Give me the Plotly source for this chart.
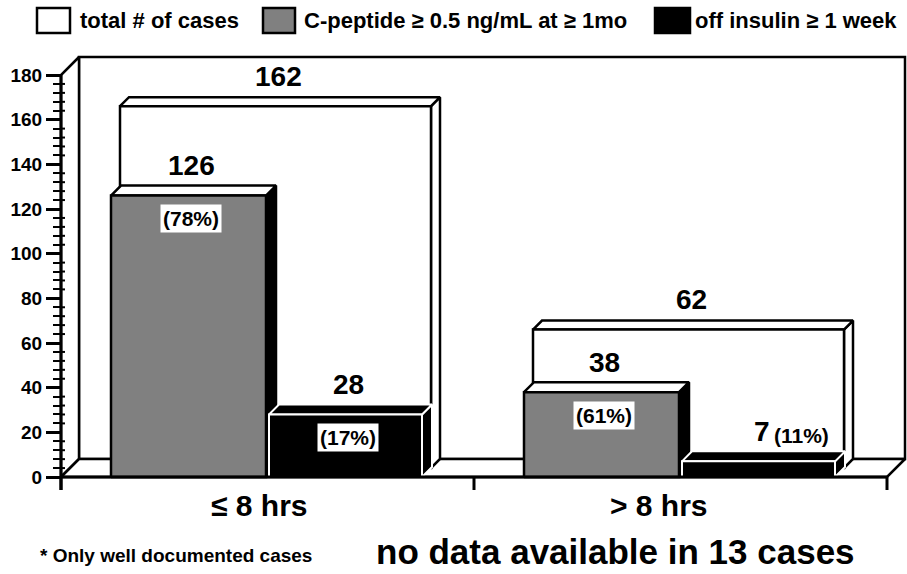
import plotly.graph_objects as go

# ---- data ----
categories = ["≤ 8 hrs", "> 8 hrs"]
total_cases = [162, 62]
c_peptide = [126, 38]
off_insulin = [28, 7]
series_names = ["total # of cases", "C-peptide ≥ 0.5 ng/mL at ≥ 1mo", "off insulin ≥ 1 week"]
y_ticks = list(range(0, 181, 20))
y_minor = [v for v in range(0, 181, 4) if v % 20]
footnote = "* Only well documented cases"
missing_note = "no data available in 13 cases"

# ---- layout constants (pixels) ----
W, H = 907, 574
AX_X = 61          # front y-axis position
FLOOR_Y = 477      # value 0 on the front plane
CAT_PX = 413       # width of one category slot
PX_PER_UNIT = 402 / 180
Y_MAX = 180
FONT = "Liberation Sans"

def ux(px):
    return px / CAT_PX

def uy(px):
    return px / PX_PER_UNIT

DEPTH = 18         # full depth of the floor / back wall
FRONT_DEPTH = 10   # depth of the front row bars
BACK_OFF = 9       # offset of the back row (totals)
BACK_DEPTH = 9

fig = go.Figure()

def poly(pts, fill, line, width=2.5):
    xs = [p[0] for p in pts] + [pts[0][0]]
    ys = [p[1] for p in pts] + [pts[0][1]]
    fig.add_trace(go.Scatter(x=xs, y=ys, mode="lines", fill="toself",
                             fillcolor=fill, line=dict(color=line, width=width),
                             hoverinfo="skip", showlegend=False))

def seg(x, y, width=3, color="black"):
    fig.add_trace(go.Scatter(x=x, y=y, mode="lines",
                             line=dict(color=color, width=width),
                             hoverinfo="skip", showlegend=False))

DX, DY = ux(DEPTH), uy(DEPTH)
n_cat = len(categories)

# walls and floor
poly([(DX, DY), (n_cat + DX, DY), (n_cat + DX, Y_MAX + DY), (DX, Y_MAX + DY)], "white", "black")
poly([(0, 0), (DX, DY), (DX, Y_MAX + DY), (0, Y_MAX)], "white", "black")
poly([(0, 0), (n_cat, 0), (n_cat + DX, DY), (DX, DY)], "white", "black")

def box3d(x0, x1, value, off_px, depth_px, front, top, side, line, width=2.5):
    ox, oy = ux(off_px), uy(off_px)
    dx, dy = ux(depth_px), uy(depth_px)
    b = oy
    v = value + oy
    a, c = x0 + ox, x1 + ox
    poly([(c, b), (c, v), (c + dx, v + dy), (c + dx, b + dy)], side, line, width)
    poly([(a, v), (c, v), (c + dx, v + dy), (a + dx, v + dy)], top, line, width)
    poly([(a, b), (c, b), (c, v), (a, v)], front, line, width)
    return (a + c) / 2, v

# slot positions inside a category (pixels from the slot start)
GRAY_X = (50, 205)
BLACK_X = (208, 361)
TOTAL_X = (50, 361)

labels = []
for i in range(n_cat):
    # back row: totals
    cx, top = box3d(i + ux(TOTAL_X[0]), i + ux(TOTAL_X[1]), total_cases[i],
                    BACK_OFF, BACK_DEPTH, "white", "white", "white", "black")
    labels.append((cx, top, total_cases[i], None))
for i in range(n_cat):
    cx, top = box3d(i + ux(GRAY_X[0]), i + ux(GRAY_X[1]), c_peptide[i],
                    0, FRONT_DEPTH, "#808080", "white", "black", "black")
    pct = round(100 * c_peptide[i] / total_cases[i])
    labels.append((cx, top, c_peptide[i], pct))
    cx, top = box3d(i + ux(BLACK_X[0]), i + ux(BLACK_X[1]), off_insulin[i],
                    0, FRONT_DEPTH, "black", "black", "black", "white", 2)
    pct = round(100 * off_insulin[i] / total_cases[i])
    labels.append((cx, top, off_insulin[i], pct))

# front axis lines and category ticks
TICK = uy(13)
seg([0, n_cat], [0, 0], 3)
seg([0, 0], [-TICK, Y_MAX], 3)
for i in range(n_cat + 1):
    seg([i, i], [-TICK, 0], 3)
# inner half of the minor ticks
mx, my = [], []
for v in y_minor:
    mx += [0, ux(4), None]
    my += [v, v, None]
seg(mx, my, 2)

annotations = []
for cx, top, val, pct in labels:
    annotations.append(dict(x=cx, y=top, xref="x", yref="y", text=f"<b>{val}</b>",
                            showarrow=False, xshift=3, yshift=30,
                            font=dict(family=FONT, size=28, color="black")))
    if pct is None:
        continue
    tall = (val * PX_PER_UNIT) > 40
    if tall:
        annotations.append(dict(x=cx, y=top, xref="x", yref="y", text=f"<b>({pct}%)</b>",
                                showarrow=False, xshift=2, yshift=-23, bgcolor="white",
                                borderpad=2,
                                font=dict(family=FONT, size=21, color="black")))
    else:
        annotations.append(dict(x=cx, y=top, xref="x", yref="y", text=f"<b>({pct}%)</b>",
                                showarrow=False, xshift=43, yshift=26,
                                font=dict(family=FONT, size=21, color="black")))

# category labels
label_shift = [-8, -22]
for i, name in enumerate(categories):
    annotations.append(dict(x=i + 0.5, y=0, xref="x", yref="y", text=f"<b>{name}</b>",
                            showarrow=False, xshift=label_shift[i], yshift=-28,
                            yanchor="middle",
                            font=dict(family=FONT, size=30, color="black")))

# notes under the chart
annotations.append(dict(x=38 / W, y=1 - 555 / H, xref="paper", yref="paper",
                        xanchor="left", yanchor="middle", text=f"<b>{footnote}</b>",
                        showarrow=False,
                        font=dict(family=FONT, size=19, color="black")))
annotations.append(dict(x=615 / W, y=1 - 551 / H, xref="paper", yref="paper",
                        xanchor="center", yanchor="middle", text=f"<b>{missing_note}</b>",
                        showarrow=False,
                        font=dict(family=FONT, size=35, color="black")))

# legend row
legend_items = [
    (37, 70, "white", "black", 78),
    (263, 295, "#808080", "black", 302),
    (655, 690, "black", "black", 693),
]
shapes = []
for (x0, x1, fill, edge, tx), name in zip(legend_items, series_names):
    shapes.append(dict(type="rect", xref="paper", yref="paper",
                       x0=x0 / W, x1=x1 / W, y0=1 - 33 / H, y1=1 - 8 / H,
                       fillcolor=fill, line=dict(color=edge, width=2.5)))
    annotations.append(dict(x=tx / W, y=1 - 20 / H, xref="paper", yref="paper",
                            xanchor="left", yanchor="middle", text=f"<b>{name}</b>",
                            showarrow=False,
                            font=dict(family=FONT, size=22, color="black")))

fig.update_layout(
    width=W, height=H,
    margin=dict(l=0, r=0, t=0, b=0),
    paper_bgcolor="white", plot_bgcolor="white",
    showlegend=False,
    xaxis=dict(range=[-AX_X / CAT_PX, (W - AX_X) / CAT_PX], visible=False,
               fixedrange=True),
    yaxis=dict(range=[(FLOOR_Y - H) / PX_PER_UNIT, FLOOR_Y / PX_PER_UNIT],
               anchor="free", position=AX_X / W, side="left",
               tickmode="array", tickvals=y_ticks,
               ticks="outside", ticklen=15, tickwidth=2.5, tickcolor="black",
               minor=dict(tickmode="array", tickvals=y_minor, ticks="outside",
                          ticklen=8, tickwidth=2, tickcolor="black"),
               tickfont=dict(family=FONT, size=19, color="black", weight="bold"),
               showgrid=False, zeroline=False, showline=False, fixedrange=True),
    shapes=shapes,
    annotations=annotations,
)

fig.write_html("out.html")
